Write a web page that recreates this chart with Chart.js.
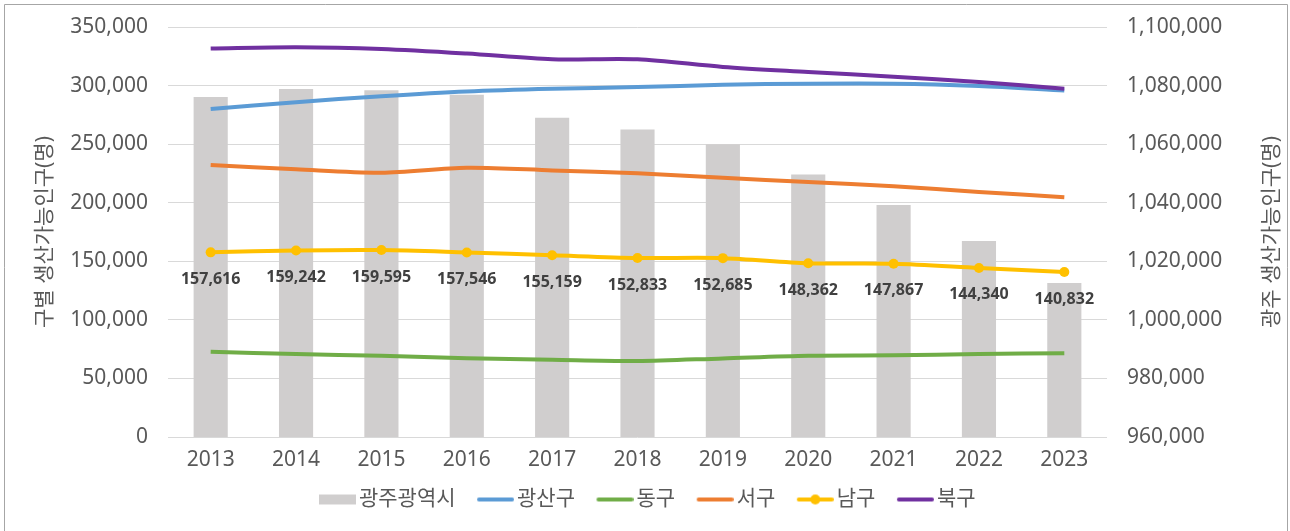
<!DOCTYPE html>
<html>
<head>
<meta charset="utf-8">
<script src="https://cdn.jsdelivr.net/npm/chart.js@4.4.1/dist/chart.umd.min.js"></script>
<style>
  html, body { margin: 0; padding: 0; background: #fff; }
  canvas { display: block; }
</style>
</head>
<body>
<canvas id="popChart" width="1290" height="531"></canvas>
<script>
// 생산가능인구 (15~64세), 2013~2023
const years = ["2013", "2014", "2015", "2016", "2017", "2018", "2019", "2020", "2021", "2022", "2023"];

// 광주광역시 전체 (오른쪽 축)
const gwangju = [1076104, 1078807, 1078418, 1076869, 1068973, 1065029, 1059952, 1049598, 1039234, 1026930, 1012555];

// 구별 (왼쪽 축) - 남구 외에는 그림에서 읽은 추정값
const gwangsan = [280100, 285800, 290900, 295000, 297300, 298700, 300700, 301600, 301600, 299600, 295800];
const donggu = [72800, 70800, 69400, 67300, 65900, 64800, 67100, 69400, 69700, 70800, 71600];
const seogu = [232200, 228500, 225600, 229900, 227600, 225100, 221300, 217600, 214100, 209200, 204700];
const namgu = [157616, 159242, 159595, 157546, 155159, 152833, 152685, 148362, 147867, 144340, 140832];
const bukgu = [331700, 332800, 331300, 327400, 322500, 322500, 315900, 311600, 307600, 303000, 297300];

const leftRange = [0, 350000, 50000];
const rightRange = [960000, 1100000, 20000];
const rightTitle = "광주 생산가능인구(명)";

const FONT = "'Noto Sans', 'Noto Sans CJK KR', sans-serif";
const fmt = v => v.toLocaleString("en-US");

// legend swatches drawn as small canvases; the mark sits at the right of
// the image so it ends up close to its text
function swatch(color, kind) {
  const c = document.createElement("canvas");
  c.width = 49;
  c.height = 12;
  const g = c.getContext("2d");
  const x0 = 12;
  if (kind === "bar") {
    g.fillStyle = color;
    g.fillRect(x0, 1, 37, 10);
  } else {
    g.strokeStyle = color;
    g.lineWidth = 4;
    g.lineCap = "round";
    g.beginPath();
    g.moveTo(x0 + 2, 6);
    g.lineTo(x0 + 35, 6);
    g.stroke();
    if (kind === "dot") {
      g.fillStyle = color;
      g.beginPath();
      g.arc(x0 + 18.5, 6, 5, 0, Math.PI * 2);
      g.fill();
    }
  }
  return c;
}

const valueLabels = {
  id: "valueLabels",
  afterDatasetsDraw(chart) {
    const ctx = chart.ctx;
    ctx.save();
    ctx.textAlign = "center";
    ctx.textBaseline = "middle";

    ctx.font = "15px " + FONT;
    ctx.fillStyle = "#595959";
    chart.getDatasetMeta(0).data.forEach((bar, i) => {
      ctx.fillText(fmt(gwangju[i]), bar.x, bar.base - 22);
    });

    ctx.font = "bold 16px " + FONT;
    ctx.fillStyle = "#404040";
    chart.getDatasetMeta(4).data.forEach((pt, i) => {
      ctx.fillText(fmt(namgu[i]), pt.x, pt.y + 27);
    });
    ctx.restore();
  }
};

// frame + right-hand axis title (reads bottom-to-top like the left one)
const frame = {
  id: "frame",
  afterDraw(chart) {
    const ctx = chart.ctx;
    const area = chart.chartArea;
    ctx.save();
    ctx.strokeStyle = "#a6a6a6";
    ctx.lineWidth = 1;
    ctx.beginPath();
    ctx.moveTo(4.5, 531);
    ctx.lineTo(4.5, 4.5);
    ctx.lineTo(1287.5, 4.5);
    ctx.lineTo(1287.5, 531);
    ctx.stroke();

    ctx.translate(1272, (area.top + area.bottom) / 2);
    ctx.rotate(-Math.PI / 2);
    ctx.font = "21px " + FONT;
    ctx.fillStyle = "#595959";
    ctx.textAlign = "center";
    ctx.textBaseline = "middle";
    ctx.fillText(rightTitle, 0, 0);
    ctx.restore();
  }
};

function lineSet(label, data, color, order) {
  return {
    type: "line",
    label: label,
    data: data,
    yAxisID: "y",
    borderColor: color,
    backgroundColor: color,
    borderWidth: 4,
    tension: 0.3,
    pointRadius: 0,
    order: order
  };
}

const namSet = lineSet("남구", namgu, "#ffc000", 2);
namSet.pointRadius = 5;
namSet.pointBackgroundColor = "#ffc000";
namSet.pointBorderWidth = 0;

const datasets = [
  {
    type: "bar",
    label: "광주광역시",
    data: gwangju,
    yAxisID: "y1",
    backgroundColor: "#d0cece",
    categoryPercentage: 1,
    barPercentage: 0.4,
    order: 10
  },
  lineSet("광산구", gwangsan, "#5b9bd5", 5),
  lineSet("동구", donggu, "#70ad47", 4),
  lineSet("서구", seogu, "#ed7d31", 3),
  namSet,
  lineSet("북구", bukgu, "#7030a0", 1)
];

const swatches = [
  swatch("#d0cece", "bar"),
  swatch("#5b9bd5", "line"),
  swatch("#70ad47", "line"),
  swatch("#ed7d31", "line"),
  swatch("#ffc000", "dot"),
  swatch("#7030a0", "line")
];

// y axes: fixed widths, and only half a label of room above/below
function fitY(width) {
  return s => {
    s.width = width;
    s.paddingTop = 12;
    s.paddingBottom = 12;
  };
}

new Chart(document.getElementById("popChart"), {
  data: { labels: years, datasets: datasets },
  plugins: [valueLabels, frame],
  options: {
    responsive: false,
    animation: false,
    devicePixelRatio: 1,
    layout: { padding: { top: 27, left: 0, right: 0, bottom: 11 } },
    plugins: {
      tooltip: { enabled: false },
      legend: {
        position: "bottom",
        labels: {
          usePointStyle: true,
          pointStyleWidth: 34,
          padding: 17,
          color: "#595959",
          font: { family: FONT, size: 21 },
          generateLabels: chart => chart.data.datasets.map((ds, i) => ({
            text: ds.label,
            fillStyle: ds.backgroundColor,
            strokeStyle: ds.backgroundColor,
            lineWidth: 0,
            pointStyle: swatches[i],
            fontColor: "#595959",
            hidden: false,
            datasetIndex: i
          }))
        }
      }
    },
    scales: {
      x: {
        offset: true,
        grid: { display: false },
        border: { display: false },
        ticks: { color: "#595959", font: { family: FONT, size: 21 }, padding: 2 },
        afterFit: s => { s.height = 35; }
      },
      y: {
        position: "left",
        min: leftRange[0],
        max: leftRange[1],
        grid: { color: "#d9d9d9", lineWidth: 1, drawTicks: false },
        border: { display: false },
        ticks: {
          stepSize: leftRange[2],
          padding: 20,
          color: "#595959",
          font: { family: FONT, size: 21 },
          callback: v => fmt(v)
        },
        title: {
          display: true,
          text: "구별 생산가능인구(명)",
          color: "#595959",
          font: { family: FONT, size: 21 },
          padding: { top: 32, bottom: 0 }
        },
        afterFit: fitY(168)
      },
      y1: {
        position: "right",
        min: rightRange[0],
        max: rightRange[1],
        grid: { display: false, drawTicks: false },
        border: { display: false },
        ticks: {
          stepSize: rightRange[2],
          padding: 20,
          color: "#595959",
          font: { family: FONT, size: 21 },
          callback: v => fmt(v)
        },
        afterFit: fitY(183)
      }
    }
  }
});
</script>
</body>
</html>
